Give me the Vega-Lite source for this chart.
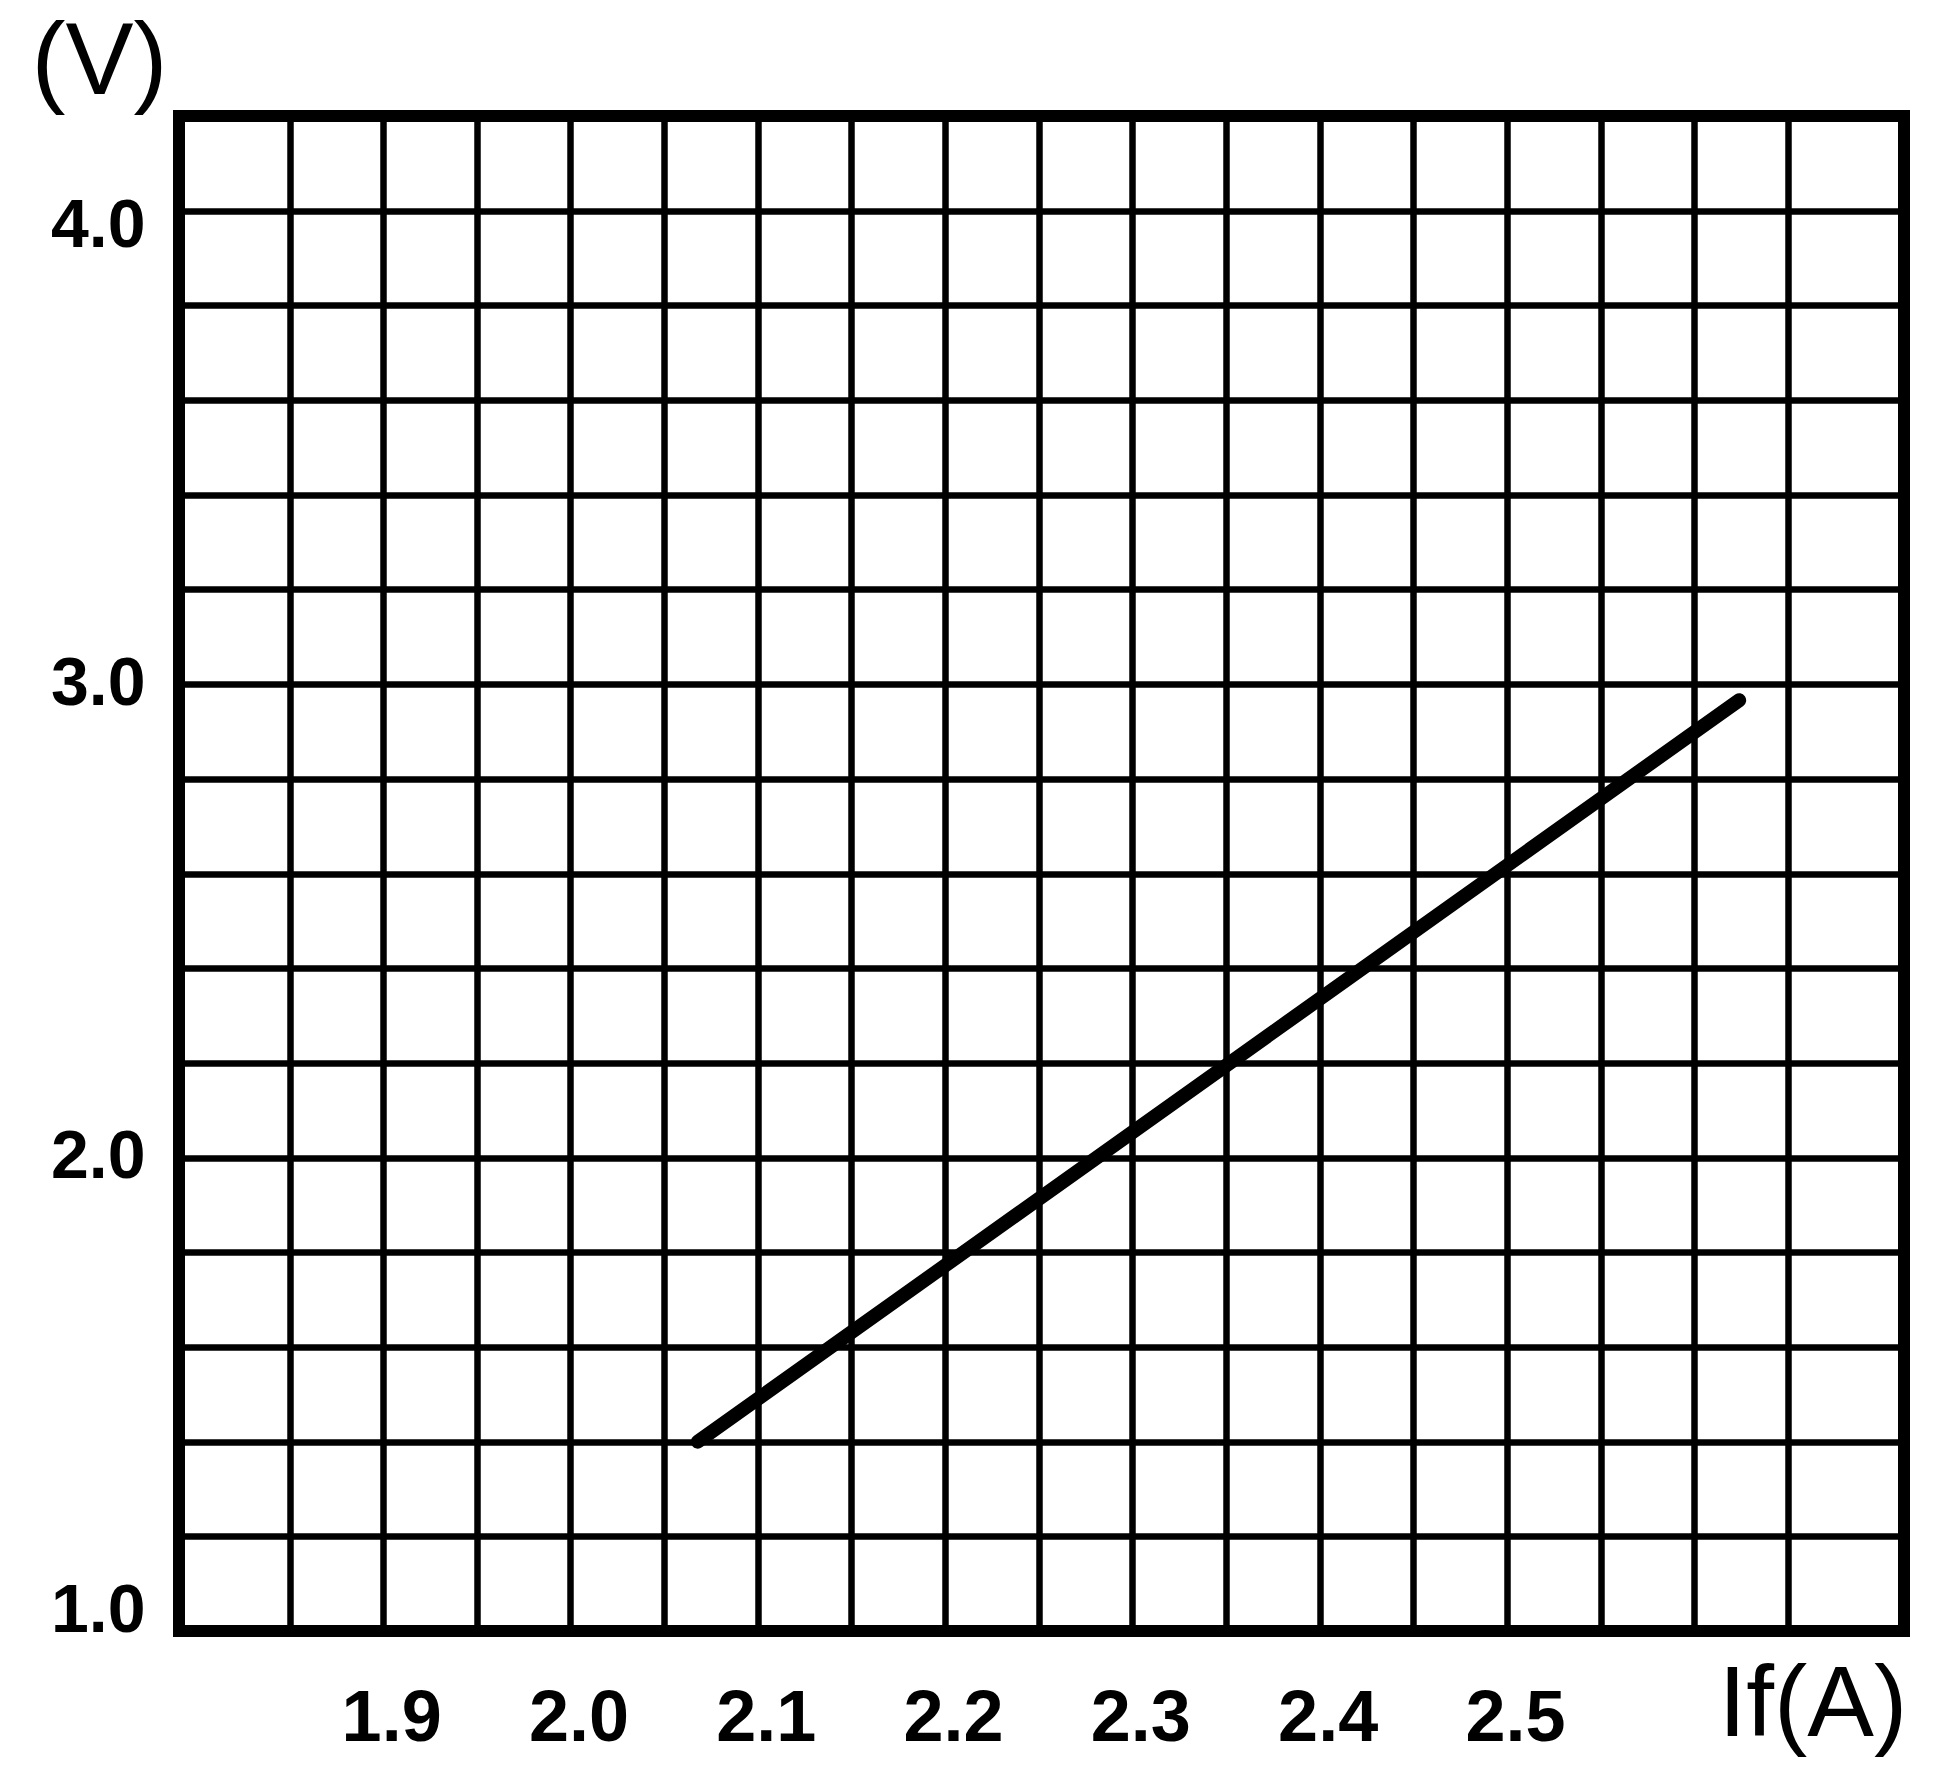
{
  "$schema": "https://vega.github.io/schema/vega-lite/v6.json",
  "width": 1725,
  "height": 1515,
  "autosize": {"type": "none"},
  "padding": {"left": 179, "top": 116, "right": 56, "bottom": 145},
  "background": "white",
  "view": {"stroke": "black", "strokeWidth": 12, "fill": "white"},
  "data": {"values": [
    {"If": 2.068, "V": 1.4},
    {"If": 2.624, "V": 2.966}
  ]},
  "mark": {"type": "line", "color": "black", "strokeWidth": 14, "strokeCap": "round"},
  "encoding": {
    "x": {
      "field": "If", "type": "quantitative",
      "scale": {"domain": [1.791, 2.712], "nice": false, "zero": false},
      "axis": {
        "values": [1.85, 1.9, 1.95, 2.0, 2.05, 2.1, 2.15, 2.2, 2.25, 2.3, 2.35, 2.4, 2.45, 2.5, 2.55, 2.6, 2.65],
        "labelExpr": "(round(datum.value*100) % 10 == 0 && datum.value < 2.55) ? format(datum.value, '.1f') : ''",
        "grid": true, "gridColor": "black", "gridWidth": 6.5, "gridOpacity": 1,
        "domain": false, "ticks": false, "tickSize": 0,
        "labelFont": "Liberation Sans", "labelFontWeight": "bold", "labelFontSize": 72, "labelColor": "black",
        "labelPadding": 52, "labelOffset": 8, "labelOverlap": false, "labelFlush": false, "labelBound": false,
        "title": "If(A)", "titleFont": "Liberation Sans", "titleFontWeight": "normal", "titleFontSize": 100,
        "titleColor": "black", "titleAlign": "left", "titleBaseline": "alphabetic", "titleAnchor": null,
        "titleX": 1539, "titleY": 104
      }
    },
    "y": {
      "field": "V", "type": "quantitative",
      "scale": {"domain": [1.0, 4.2], "nice": false, "zero": false},
      "axis": {
        "values": [1.0, 1.2, 1.4, 1.6, 1.8, 2.0, 2.2, 2.4, 2.6, 2.8, 3.0, 3.2, 3.4, 3.6, 3.8, 4.0],
        "labelExpr": "round(datum.value*10) % 10 == 0 ? format(datum.value, '.1f') : ''",
        "grid": true, "gridColor": "black", "gridWidth": 6.5, "gridOpacity": 1,
        "domain": false, "ticks": false, "tickSize": 0,
        "labelFont": "Liberation Sans", "labelFontWeight": "bold", "labelFontSize": 68, "labelColor": "black",
        "labelPadding": 34, "labelOverlap": false, "labelFlush": false, "labelBound": false,
        "labelOffset": {"condition": [{"test": "datum.value > 3.9", "value": 16}, {"test": "datum.value < 1.1", "value": -20}], "value": 0},
        "title": "(V)", "titleFont": "Liberation Sans", "titleFontWeight": "normal", "titleFontSize": 102,
        "titleColor": "black", "titleAngle": 0, "titleAlign": "left", "titleBaseline": "alphabetic", "titleAnchor": null,
        "titleX": -148, "titleY": -23
      }
    }
  }
}
